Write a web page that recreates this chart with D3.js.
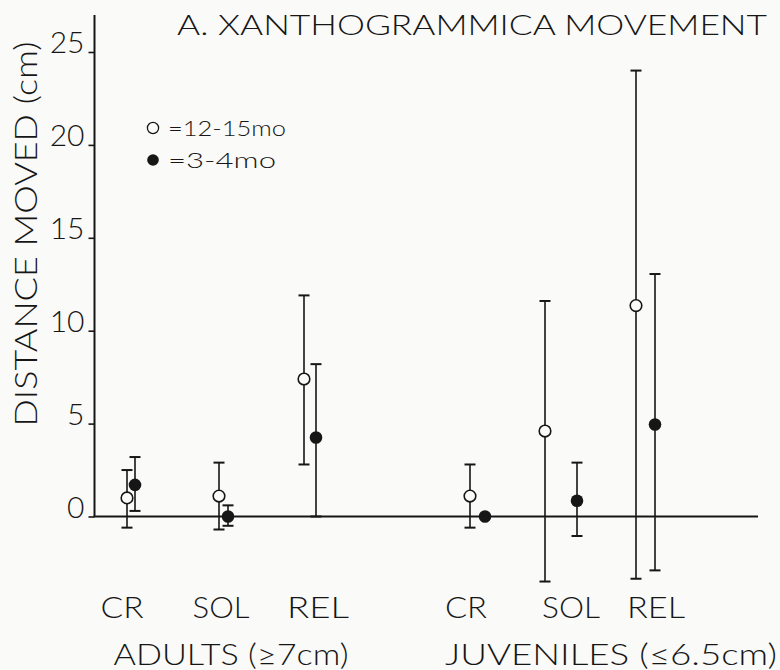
<!DOCTYPE html>
<html>
<head>
<meta charset="utf-8">
<script src="https://cdn.jsdelivr.net/npm/d3@7"></script>
<style>
  html, body { margin: 0; padding: 0; background: #fafaf8; }
  svg { display: block; }
  text { font-family: Lato, "Open Sans", "DejaVu Sans", sans-serif; font-weight: 300; fill: #161616; }
</style>
</head>
<body>
<svg id="chart" width="780" height="670"></svg>
<script>
// ---------------- data ----------------
const title = "A. XANTHOGRAMMICA MOVEMENT";
const yLabel = "DISTANCE MOVED (cm)";
const groups = ["ADULTS (\u22657cm)", "JUVENILES (\u22646.5cm)"];
const categories = ["CR", "SOL", "REL", "CR", "SOL", "REL"];
const categoryGroup = [0, 0, 0, 1, 1, 1];
const yTicks = [0, 5, 10, 15, 20, 25];
const seriesNames = ["=12-15mo", "=3-4mo"];

// 12-15 mo (open circles)
const openMean  = [1.0, 1.1, 7.4, 1.1, 4.6, 11.35];
const openUpper = [2.5, 2.9, 11.9, 2.8, 11.6, 24.0];
const openLower = [-0.6, -0.7, 2.8, -0.6, -3.5, -3.35];

// 3-4 mo (filled circles)
const filledMean  = [1.7, 0.0, 4.25, 0.0, 0.85, 4.95];
const filledUpper = [3.2, 0.6, 8.2, null, 2.9, 13.05];
const filledLower = [0.3, -0.5, 0.0, null, -1.05, -2.9];

// ---------------- layout ----------------
const svg = d3.select("#chart");
const ink = "#161616";

const y = d3.scaleLinear().domain([0, 25]).range([516.5, 52]);

const catKeys = categories.map((c, i) => i);
const xLabel = d3.scaleOrdinal().domain(catKeys).range([122, 221, 318, 466, 571, 656]);
const labelWidth = d3.scaleOrdinal().domain(catKeys).range([43, 57, 62, 42, 58, 58]);
const xOpen = d3.scaleOrdinal().domain(catKeys).range([127, 219, 304, 470, 545, 636]);
const xFilled = d3.scaleOrdinal().domain(catKeys).range([135, 228, 316, 485, 577, 655]);
const xGroup = d3.scaleOrdinal().domain([0, 1]).range([231, 611]);

const axisX = 94.5;
const baselineEnd = 758;

// y axis
const yAxis = d3.axisLeft(y).tickValues(yTicks).tickSize(6).tickSizeOuter(0).tickFormat(d3.format("d"));
const gy = svg.append("g").attr("transform", `translate(${axisX},0)`).call(yAxis);
gy.select(".domain").remove();
gy.selectAll(".tick line").attr("stroke", ink).attr("stroke-width", 1.6);
gy.selectAll(".tick text")
  .attr("x", -10).attr("dy", "0.02em")
  .style("font-size", "30px").style("font-weight", 300).attr("fill", ink);

svg.append("line").attr("x1", axisX).attr("x2", axisX)
  .attr("y1", 15).attr("y2", y(0)).attr("stroke", ink).attr("stroke-width", 2);
svg.append("line").attr("x1", axisX - 1).attr("x2", baselineEnd)
  .attr("y1", y(0)).attr("y2", y(0)).attr("stroke", ink).attr("stroke-width", 2);

// error bars + points
function drawSeries(mean, upper, lower, xs, filled) {
  const g = svg.append("g");
  const idx = catKeys.filter(i => upper[i] != null);
  const eb = g.selectAll("g.eb").data(idx).join("g").attr("class", "eb");
  eb.append("line")
    .attr("x1", i => xs(i)).attr("x2", i => xs(i))
    .attr("y1", i => y(upper[i])).attr("y2", i => y(lower[i]))
    .attr("stroke", ink).attr("stroke-width", 1.6);
  eb.append("line")
    .attr("x1", i => xs(i) - 5.5).attr("x2", i => xs(i) + 5.5)
    .attr("y1", i => y(upper[i])).attr("y2", i => y(upper[i]))
    .attr("stroke", ink).attr("stroke-width", 2);
  eb.append("line")
    .attr("x1", i => xs(i) - 5.5).attr("x2", i => xs(i) + 5.5)
    .attr("y1", i => y(lower[i])).attr("y2", i => y(lower[i]))
    .attr("stroke", ink).attr("stroke-width", 2);
  g.selectAll("circle").data(catKeys).join("circle")
    .attr("cx", i => xs(i)).attr("cy", i => y(mean[i]))
    .attr("r", filled ? 6.3 : 5.8)
    .attr("fill", filled ? ink : "#fafaf8")
    .attr("stroke", ink).attr("stroke-width", filled ? 0 : 1.6);
}
drawSeries(openMean, openUpper, openLower, xOpen, false);
drawSeries(filledMean, filledUpper, filledLower, xFilled, true);

// title
svg.append("text").attr("x", 177).attr("y", 35)
  .attr("textLength", 590).attr("lengthAdjust", "spacingAndGlyphs")
  .style("font-size", "28px").text(title);

// y label
svg.append("text")
  .attr("transform", "translate(37,234) rotate(-90)")
  .attr("text-anchor", "middle")
  .attr("textLength", 385).attr("lengthAdjust", "spacingAndGlyphs")
  .style("font-size", "31px").text(yLabel);

// legend
const legY = d3.scaleOrdinal().domain([0, 1]).range([128, 160]);
const lg = svg.append("g");
lg.append("circle").attr("cx", 153).attr("cy", legY(0)).attr("r", 5.6)
  .attr("fill", "none").attr("stroke", ink).attr("stroke-width", 1.3);
lg.append("circle").attr("cx", 153).attr("cy", legY(1)).attr("r", 5.8).attr("fill", ink);
lg.selectAll("text").data([0, 1]).join("text")
  .attr("x", 168).attr("y", d => legY(d) + 8)
  .attr("textLength", d => d === 0 ? 118 : 108).attr("lengthAdjust", "spacingAndGlyphs")
  .style("font-size", "21px").text(d => seriesNames[d]);

// category labels
svg.append("g").selectAll("text").data(catKeys).join("text")
  .attr("x", i => xLabel(i)).attr("y", 618).attr("text-anchor", "middle")
  .attr("textLength", i => labelWidth(i)).attr("lengthAdjust", "spacingAndGlyphs")
  .style("font-size", "29px").text(i => categories[i]);

// group labels
const groupWidth = [235, 332];
svg.append("g").selectAll("text").data([0, 1]).join("text")
  .attr("x", g => xGroup(g)).attr("y", 665).attr("text-anchor", "middle")
  .attr("textLength", g => groupWidth[g]).attr("lengthAdjust", "spacingAndGlyphs")
  .style("font-size", "29px").text(g => groups[g]);
</script>
</body>
</html>
